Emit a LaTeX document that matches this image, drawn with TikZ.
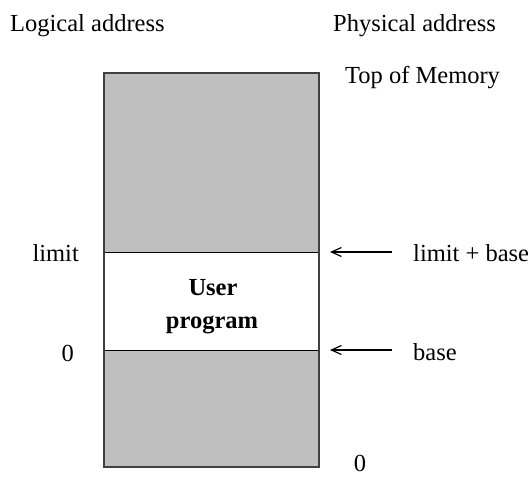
\documentclass[tikz,border=0pt]{standalone}
\usepackage{fontspec}
\setmainfont{Liberation Serif}
\usetikzlibrary{arrows.meta}
\definecolor{memgray}{RGB}{191,191,191}
\definecolor{edgegray}{RGB}{64,64,64}
\tikzset{
  lbl/.style={inner sep=0pt, font=\fontsize{24.5}{29}\selectfont},
  blbl/.style={inner sep=0pt, font=\fontsize{24.5}{29}\selectfont\bfseries},
  ptr/.style={line width=1.2pt, -{Straight Barb[length=10pt,width=9pt]}},
}
\begin{document}
\begin{tikzpicture}[x=1pt,y=-1pt]
\useasboundingbox (0,0) rectangle (532,477);
% memory regions
\fill[memgray] (104,73) rectangle (319,252);
\fill[memgray] (104,350) rectangle (319,467);
\draw[line width=0.9pt] (104,252) -- (319,252);
\draw[line width=0.9pt] (104,350) -- (319,350);
\draw[edgegray, line width=2pt] (104,73) rectangle (319,467);
% labels
\node[lbl, anchor=base west] (logical) at (10,31) {Logical address};
\node[lbl, anchor=base west] (physical) at (333,31) {Physical address};
\node[lbl, anchor=base west] (top) at (345,83) {Top of Memory};
\node[lbl, anchor=base east] (limit) at (79,261) {limit};
\node[lbl, anchor=base east] (zeroL) at (74,361) {0};
\node[lbl, anchor=base west] (limbase) at (413,261) {limit + base};
\node[lbl, anchor=base west] (base) at (413,360) {base};
\node[lbl, anchor=base] (zeroB) at (360,471) {0};
\node[blbl, anchor=base] (user) at (213,295) {User};
\node[blbl, anchor=base] (prog) at (212,328) {program};
% arrows
\coordinate (t1) at (392,252);
\coordinate (h1) at (330,252);
\coordinate (t2) at (392,350);
\coordinate (h2) at (330,350);
\draw[ptr] (t1) -- (h1);
\draw[ptr] (t2) -- (h2);
\end{tikzpicture}
\end{document}
